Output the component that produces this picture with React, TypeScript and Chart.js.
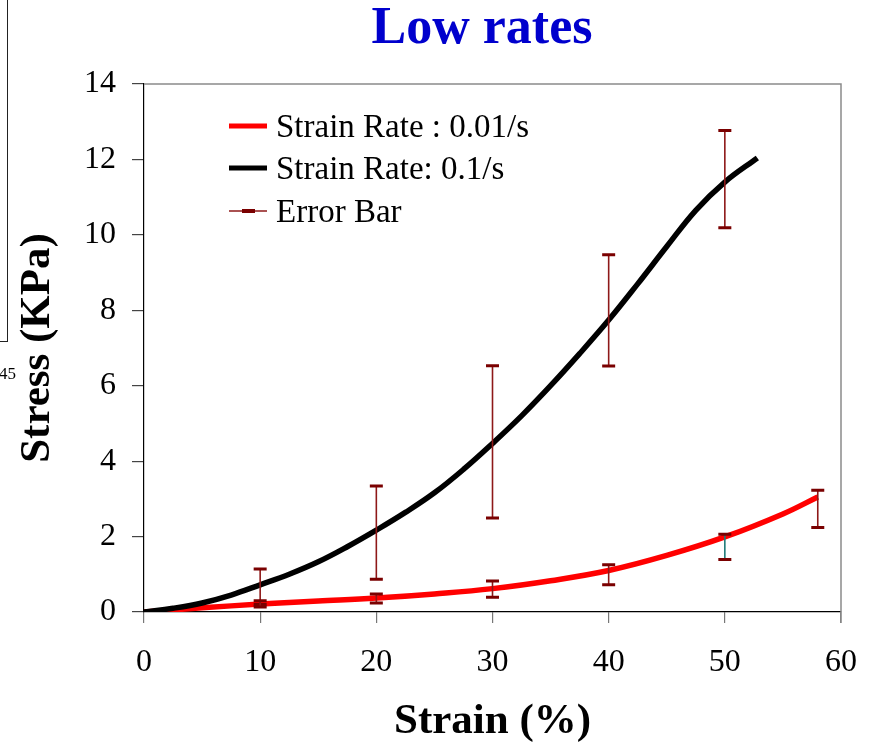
import React, { useEffect, useRef } from "react";
import { Chart, registerables } from "chart.js";

Chart.register(...registerables);

// ---- Data ----
const titleText = "Low rates";
const xAxisTitle = "Strain (%)";
const yAxisTitle = "Stress (KPa)";
const legendLabels = ["Strain Rate : 0.01/s", "Strain Rate: 0.1/s", "Error Bar"];

const xTicks = [0, 10, 20, 30, 40, 50, 60];
const yTicks = [0, 2, 4, 6, 8, 10, 12, 14];

// Strain rate 0.01/s (red)
const slowStrain = [0, 5, 10, 15, 20, 25, 30, 35, 40, 45, 50, 55, 58];
const slowStress = [0, 0.11, 0.21, 0.29, 0.37, 0.48, 0.62, 0.83, 1.1, 1.5, 1.99, 2.6, 3.05];

// Strain rate 0.1/s (black)
const fastStrain = [0, 2.5, 5, 7.5, 10, 12.5, 15, 17.5, 20, 22.5, 25, 27.5, 30, 32.5, 35, 37.5, 40, 42.5, 45, 47.5, 50, 52.8];
const fastStress = [0, 0.1, 0.24, 0.45, 0.72, 1.0, 1.33, 1.73, 2.17, 2.64, 3.16, 3.78, 4.47, 5.2, 6.0, 6.85, 7.74, 8.7, 9.69, 10.65, 11.4, 12.04];

// Error bars
const fastErrStrain = [10, 20, 30, 40, 50];
const fastErrLow = [0.2, 0.87, 2.49, 6.52, 10.19];
const fastErrHigh = [1.14, 3.34, 6.53, 9.47, 12.77];

const slowErrStrain = [10, 20, 30, 40, 50, 58];
const slowErrLow = [0.13, 0.24, 0.39, 0.72, 1.39, 2.24];
const slowErrHigh = [0.3, 0.48, 0.82, 1.25, 2.06, 3.23];

// ---- Styles ----
const FONT = '"Liberation Serif", "Times New Roman", serif';
const RED = "#FF0000";
const BLACK = "#000000";
const CAP_COLOR = "#7A0000";
const STEM_COLOR = "#8E1818";
const TEAL_STEM = "#1F7A78";
const slowStemColors = [STEM_COLOR, STEM_COLOR, STEM_COLOR, STEM_COLOR, TEAL_STEM, STEM_COLOR];

const toPoints = (xs: number[], ys: number[]) => xs.map((x, i) => ({ x, y: ys[i] }));

const decorPlugin = {
  id: "decor",
  beforeDatasetsDraw(chart: any) {
    const { ctx, chartArea } = chart;
    ctx.save();
    ctx.strokeStyle = "#8a8a8a";
    ctx.lineWidth = 1.5;
    ctx.beginPath();
    ctx.moveTo(chartArea.left, chartArea.top);
    ctx.lineTo(chartArea.right, chartArea.top);
    ctx.lineTo(chartArea.right, chartArea.bottom + 11);
    ctx.stroke();
    ctx.restore();
  },
  afterDatasetsDraw(chart: any) {
    const { ctx } = chart;
    const xs = chart.scales.x;
    const ys = chart.scales.y;
    const drawBar = (xv: number, lo: number, hi: number, stem: string) => {
      const px = xs.getPixelForValue(xv);
      const pTop = ys.getPixelForValue(hi);
      const pBot = ys.getPixelForValue(lo);
      ctx.save();
      ctx.strokeStyle = stem;
      ctx.lineWidth = 1.6;
      ctx.beginPath();
      ctx.moveTo(px, pTop);
      ctx.lineTo(px, pBot);
      ctx.stroke();
      ctx.strokeStyle = CAP_COLOR;
      ctx.lineWidth = 3;
      ctx.beginPath();
      ctx.moveTo(px - 6.5, pTop);
      ctx.lineTo(px + 6.5, pTop);
      ctx.moveTo(px - 6.5, pBot);
      ctx.lineTo(px + 6.5, pBot);
      ctx.stroke();
      ctx.restore();
    };
    fastErrStrain.forEach((x, i) => drawBar(x, fastErrLow[i], fastErrHigh[i], STEM_COLOR));
    slowErrStrain.forEach((x, i) => drawBar(x, slowErrLow[i], slowErrHigh[i], slowStemColors[i]));
  },
  afterDraw(chart: any) {
    const { ctx, chartArea } = chart;
    ctx.save();
    // Title
    ctx.fillStyle = "#0000CD";
    ctx.font = `bold 52px ${FONT}`;
    ctx.textAlign = "center";
    ctx.textBaseline = "alphabetic";
    ctx.fillText(titleText, 482, 43);

    // Legend
    const lx0 = chartArea.left + 85;
    const lx1 = chartArea.left + 123;
    const tx = chartArea.left + 132;
    const rows = [chartArea.top + 42, chartArea.top + 84, chartArea.top + 127];
    ctx.lineCap = "butt";
    ctx.strokeStyle = RED;
    ctx.lineWidth = 5;
    ctx.beginPath();
    ctx.moveTo(lx0, rows[0]);
    ctx.lineTo(lx1, rows[0]);
    ctx.stroke();
    ctx.strokeStyle = BLACK;
    ctx.beginPath();
    ctx.moveTo(lx0, rows[1]);
    ctx.lineTo(lx1, rows[1]);
    ctx.stroke();
    ctx.strokeStyle = STEM_COLOR;
    ctx.lineWidth = 1.5;
    ctx.beginPath();
    ctx.moveTo(lx0, rows[2]);
    ctx.lineTo(lx1, rows[2]);
    ctx.stroke();
    ctx.strokeStyle = CAP_COLOR;
    ctx.lineWidth = 4;
    ctx.beginPath();
    ctx.moveTo(lx0 + 13, rows[2]);
    ctx.lineTo(lx0 + 26, rows[2]);
    ctx.stroke();

    ctx.fillStyle = "#000";
    ctx.font = `33px ${FONT}`;
    ctx.textAlign = "left";
    ctx.textBaseline = "middle";
    legendLabels.forEach((t, i) => ctx.fillText(t, tx, rows[i] + 2));
    ctx.restore();
  },
};

export default function App() {
  const ref = useRef<HTMLCanvasElement>(null);

  useEffect(() => {
    if (!ref.current) return;
    const chart = new Chart(ref.current, {
      type: "line",
      data: {
        datasets: [
          {
            label: legendLabels[1],
            data: toPoints(fastStrain, fastStress),
            borderColor: BLACK,
            borderWidth: 5.5,
            pointRadius: 0,
            tension: 0.4,
            fill: false,
          },
          {
            label: legendLabels[0],
            data: toPoints(slowStrain, slowStress),
            borderColor: RED,
            borderWidth: 5.5,
            pointRadius: 0,
            tension: 0.4,
            fill: false,
          },
        ],
      },
      options: {
        responsive: false,
        animation: false,
        devicePixelRatio: 1,
        layout: { padding: { left: 0, top: 84, right: 33, bottom: 0 } },
        plugins: {
          legend: { display: false },
          title: { display: false },
          tooltip: { enabled: false },
        },
        scales: {
          x: {
            type: "linear",
            min: 0,
            max: 60,
            afterBuildTicks: (s: any) => {
              s.ticks = xTicks.map((v) => ({ value: v }));
            },
            afterFit: (s: any) => {
              s.height = 132;
              s.paddingLeft = 0;
              s.paddingRight = 0;
            },
            ticks: {
              color: "#000",
              font: { family: FONT, size: 32 },
              padding: 20,
              maxRotation: 0,
              autoSkip: false,
            },
            grid: {
              drawOnChartArea: false,
              drawTicks: true,
              tickLength: 11,
              color: "#777",
              lineWidth: 1.2,
            },
            border: { display: true, color: "#000", width: 1.2 },
            title: {
              display: true,
              text: xAxisTitle,
              color: "#000",
              font: { family: FONT, size: 43, weight: "bold", lineHeight: 1 },
              padding: { top: 0, bottom: 0.5 },
            },
          },
          y: {
            type: "linear",
            min: 0,
            max: 14,
            afterBuildTicks: (s: any) => {
              s.ticks = yTicks.map((v) => ({ value: v }));
            },
            afterFit: (s: any) => {
              s.width = 144;
              s.paddingTop = 0;
              s.paddingBottom = 0;
            },
            ticks: {
              color: "#000",
              font: { family: FONT, size: 32 },
              padding: 16,
              autoSkip: false,
            },
            grid: {
              drawOnChartArea: false,
              drawTicks: true,
              tickLength: 12,
              color: "#444",
              lineWidth: 1.2,
            },
            border: { display: true, color: "#000", width: 1.2 },
            title: {
              display: true,
              text: yAxisTitle,
              color: "#000",
              font: { family: FONT, size: 43, weight: "bold", lineHeight: 1 },
              padding: { top: 16.5, bottom: 0 },
            },
          },
        },
      },
      plugins: [decorPlugin],
    } as any);
    return () => chart.destroy();
  }, []);

  return (
    <div
      style={{
        position: "fixed",
        left: 0,
        top: 0,
        width: 874,
        height: 744,
        background: "#fff",
        overflow: "hidden",
      }}
    >
      <canvas
        ref={ref}
        width={874}
        height={744}
        style={{ position: "absolute", left: 0, top: 0, width: 874, height: 744 }}
      />
      <div
        style={{
          position: "absolute",
          left: 0,
          top: 0,
          width: 7,
          height: 341,
          borderRight: "1px solid #222",
          borderBottom: "1px solid #222",
        }}
      />
      <span
        style={{
          position: "absolute",
          left: -1,
          top: 365,
          fontFamily: FONT,
          fontSize: 17,
          lineHeight: "17px",
          color: "#000",
        }}
      >
        45
      </span>
    </div>
  );
}
